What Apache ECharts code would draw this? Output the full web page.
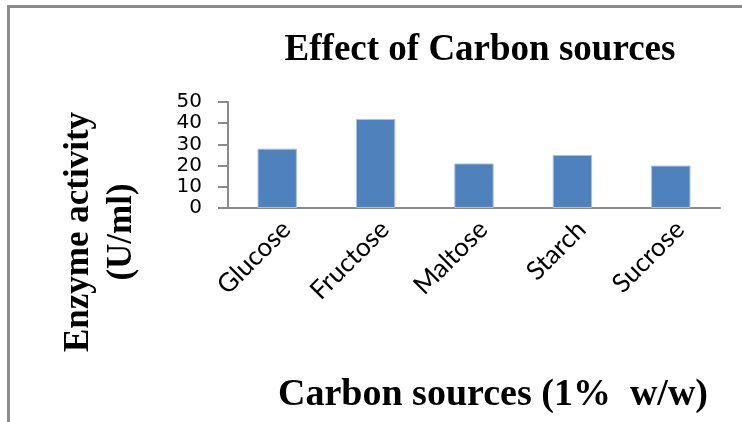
<!DOCTYPE html>
<html>
<head>
<meta charset="utf-8">
<script src="https://cdn.jsdelivr.net/npm/echarts@6/dist/echarts.min.js"></script>
<style>
html,body{margin:0;padding:0;background:#fff;}
#chart{width:742px;height:422px;}
</style>
</head>
<body>
<div id="chart"></div>
<script>
var categories = ['Glucose', 'Fructose', 'Maltose', 'Starch', 'Sucrose'];
var enzymeActivity = [28, 42, 21, 25, 20];
var yTicks = [0, 10, 20, 30, 40, 50];

var chart = echarts.init(document.getElementById('chart'), null, {renderer: 'canvas'});
var option = {
  backgroundColor: '#ffffff',
  animation: false,
  title: {
    text: 'Effect of Carbon sources',
    left: 475,
    top: 27,
    textAlign: 'center',
    textStyle: {fontFamily: 'Liberation Serif', fontWeight: 'bold', fontSize: 37, color: '#000'}
  },
  grid: {left: 228, right: 22, top: 102, bottom: 214, containLabel: false},
  xAxis: {
    type: 'category',
    data: categories,
    axisLine: {lineStyle: {color: '#8a8a8a', width: 2}},
    axisTick: {show: false},
    axisLabel: {rotate: 45, fontFamily: 'Lato', fontSize: 26, color: '#000', margin: 8,
      verticalAlign: 'top', interval: 0, hideOverlap: false}
  },
  yAxis: {
    type: 'value',
    position: 'left',
    min: yTicks[0],
    max: yTicks[yTicks.length - 1],
    interval: 10,
    splitLine: {show: false},
    axisLine: {show: true, onZero: false, lineStyle: {color: '#8a8a8a', width: 2}},
    axisTick: {show: true, inside: false, length: 10, lineStyle: {color: '#8a8a8a', width: 2, opacity: 1}},
    axisLabel: {
      show: true, margin: 26, showMinLabel: true, showMaxLabel: true, hideOverlap: false,
      fontFamily: 'DejaVu Sans', fontSize: 20, lineHeight: 20, color: '#000'
    }
  },
  series: [{
    type: 'bar',
    data: enzymeActivity,
    barWidth: '40%',
    itemStyle: {color: '#4F81BD', borderColor: '#a9c1de', borderWidth: 1}
  }],
  graphic: [
    {type: 'line', shape: {x1: 8.5, y1: 6, x2: 8.5, y2: 422}, style: {stroke: '#8c8c8c', lineWidth: 3}},
    {type: 'line', shape: {x1: 7, y1: 6.5, x2: 742, y2: 6.5}, style: {stroke: '#8c8c8c', lineWidth: 3}},
    {
      type: 'text', x: 100, y: 232, rotation: Math.PI / 2,
      style: {text: 'Enzyme activity\n(U/ml)', align: 'center', verticalAlign: 'middle',
        font: 'bold 35px "Liberation Serif"', lineHeight: 43, fill: '#000'}
    },
    {
      type: 'text', x: 493, y: 395,
      style: {text: 'Carbon sources (1%  w/w)', align: 'center', verticalAlign: 'middle',
        font: 'bold 38px "Liberation Serif"', fill: '#000'}
    }
  ]
};
chart.setOption(option);
</script>
</body>
</html>
